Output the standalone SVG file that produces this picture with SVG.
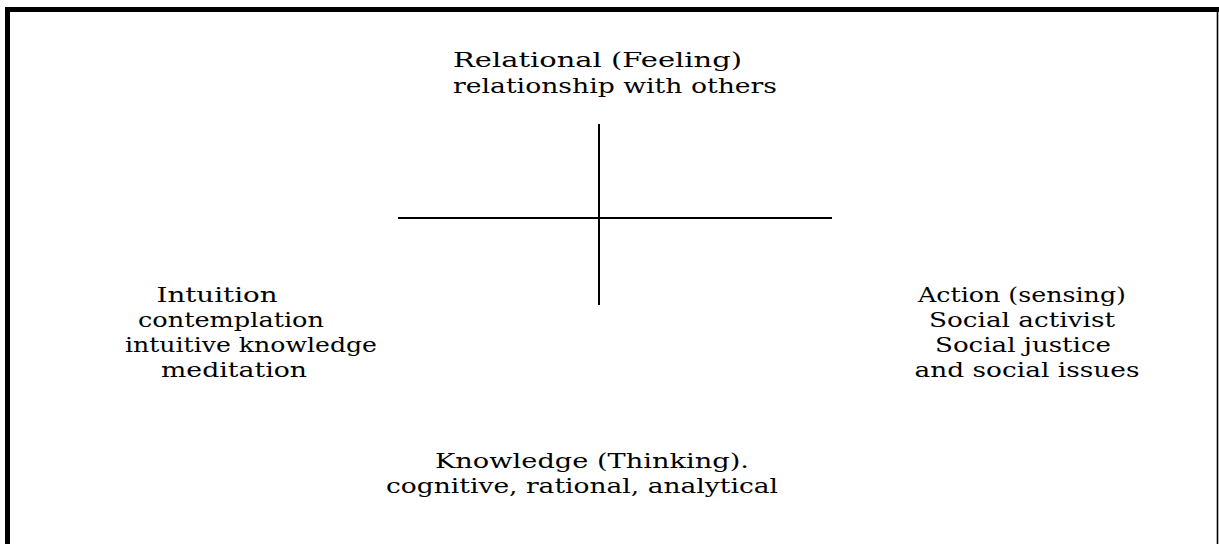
<svg xmlns="http://www.w3.org/2000/svg" width="1219" height="544" viewBox="0 0 1219 544">
<style>
text{font-family:"DejaVu Serif","Liberation Serif",serif;font-size:21px;fill:#000;text-anchor:middle}
.b{stroke:#000;fill:none}
</style>
<rect width="1219" height="544" fill="#fff"/>
<g id="frame">
<line class="b" x1="5" y1="9.5" x2="1219" y2="9.5" stroke-width="5"/>
<line class="b" x1="7.5" y1="7" x2="7.5" y2="544" stroke-width="5"/>
<line class="b" x1="1217.5" y1="8" x2="1217.5" y2="544" stroke-width="1.6"/>
</g>
<g id="connectors">
<line class="b" x1="599" y1="124" x2="599" y2="305" stroke-width="2"/>
<line class="b" x1="398" y1="218" x2="832" y2="218" stroke-width="2.2"/>
</g>
<g id="relational">
<text x="597.5" y="67" textLength="289" lengthAdjust="spacingAndGlyphs">Relational (Feeling)</text>
<text x="615" y="93" textLength="324" lengthAdjust="spacingAndGlyphs">relationship with others</text>
</g>
<g id="intuition">
<text x="217" y="302" textLength="121" lengthAdjust="spacingAndGlyphs">Intuition</text>
<text x="231" y="327" textLength="186" lengthAdjust="spacingAndGlyphs">contemplation</text>
<text x="251" y="352" textLength="252" lengthAdjust="spacingAndGlyphs">intuitive knowledge</text>
<text x="234" y="377" textLength="146" lengthAdjust="spacingAndGlyphs">meditation</text>
</g>
<g id="action">
<text x="1022" y="302" textLength="208" lengthAdjust="spacingAndGlyphs">Action (sensing)</text>
<text x="1022" y="327" textLength="186" lengthAdjust="spacingAndGlyphs">Social activist</text>
<text x="1023" y="352" textLength="176" lengthAdjust="spacingAndGlyphs">Social justice</text>
<text x="1027" y="377" textLength="225" lengthAdjust="spacingAndGlyphs">and social issues</text>
</g>
<g id="knowledge">
<text x="592" y="468" textLength="314" lengthAdjust="spacingAndGlyphs">Knowledge (Thinking).</text>
<text x="582" y="493" textLength="392" lengthAdjust="spacingAndGlyphs">cognitive, rational, analytical</text>
</g>
</svg>
